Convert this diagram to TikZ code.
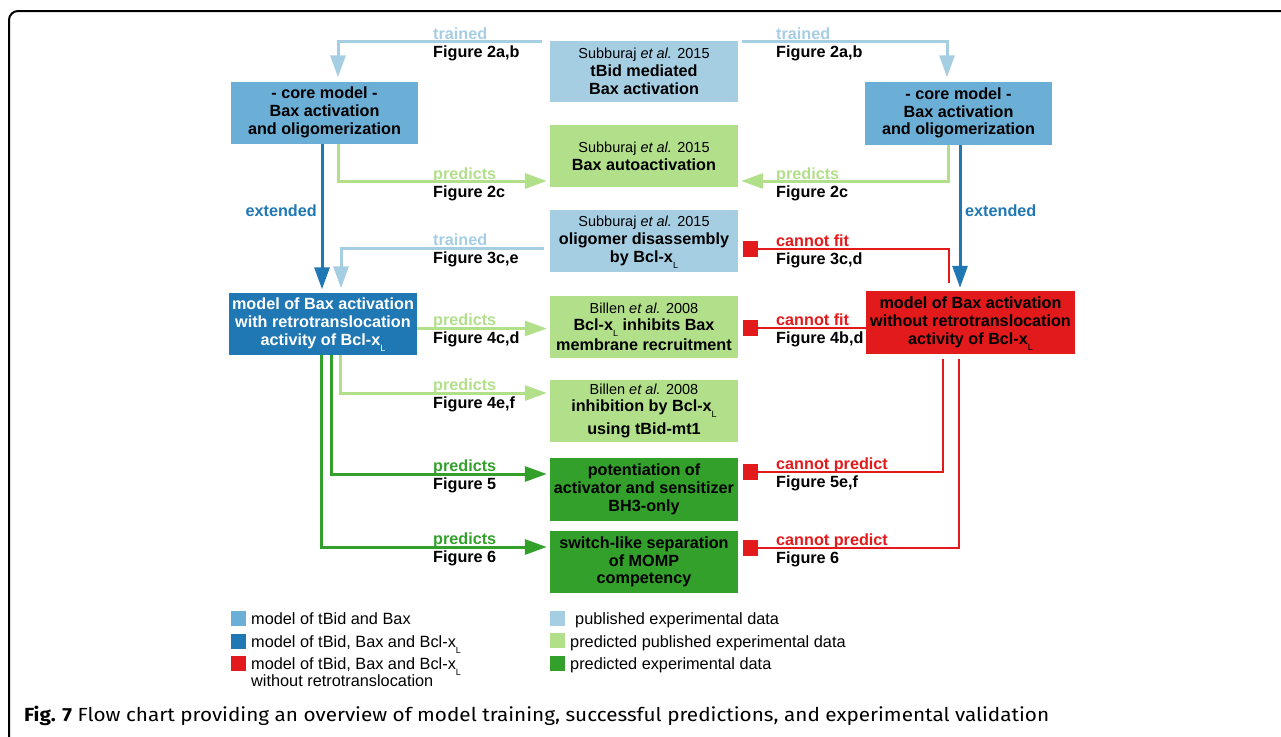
\documentclass[tikz,border=0pt]{standalone}
\usepackage{fontspec}
\setmainfont{Liberation Sans}
\newfontfamily\capfont{Fira Sans}
\usetikzlibrary{arrows.meta,calc}
\definecolor{cmodel}{HTML}{6BAED6}
\definecolor{cdata}{HTML}{A6CEE3}
\definecolor{cblue}{HTML}{1F78B4}
\definecolor{cpred}{HTML}{B2DF8A}
\definecolor{cgreen}{HTML}{33A02C}
\definecolor{cred}{HTML}{E31A1C}
\newcommand\Lsub{\smash{\raisebox{-6pt}{\fontsize{9}{9}\selectfont\mdseries L}}}
\newcommand\refl[1]{{\fontsize{14.5}{18}\selectfont\mdseries #1}}
\newsavebox\capbox
\newdimen\capw
\begin{document}
\sbox\capbox{\capfont\fontsize{19}{22}\selectfont\textbf{Fig. 7} Flow chart providing an overview of model training, successful predictions, and experimental validation}%
\global\capw=\wd\capbox
\pgfmathsetmacro\capsx{1025/\capw}%
\xdef\capsx{\capsx}%
\begin{tikzpicture}[x=1pt,y=-1pt,
  box/.style={rectangle, inner sep=0pt, align=center, text=black,
    font=\fontsize{16.2}{17.8}\selectfont\bfseries},
  lab/.style={inner sep=0pt, anchor=base west, font=\fontsize{16.2}{18}\selectfont\bfseries},
  legsq/.style={rectangle, minimum size=15pt, inner sep=0pt},
  legtx/.style={inner sep=0pt, anchor=base west, font=\fontsize{16.3}{18}\selectfont},
  ln/.style={line width=3pt},
  arr/.style={-{Triangle[length=22pt,width=15pt]}},
  trained/.style={ln, draw=cdata, arr, shorten >=4pt},
  predl/.style={ln, draw=cpred, arr, shorten >=3pt},
  predd/.style={ln, draw=cgreen, arr, shorten >=3pt},
  ext/.style={ln, draw=cblue, arr, shorten >=3pt},
  cannot/.style={line width=2.6pt, draw=cred, -{Square[length=15pt,width=16pt]}, shorten >=5pt}
]
\useasboundingbox (0,0) rectangle (1281,736);
\draw[line width=2pt, rounded corners=9pt] (9,737) -- (9,11) -- (1283,11);

% boxes
\node[box, fill=cmodel, minimum width=187pt, minimum height=62pt] (coreL) at (324.5,112.5) {- core model -\\Bax activation\\and oligomerization};
\node[box, fill=cmodel, minimum width=187pt, minimum height=63pt] (coreR) at (958.5,113) {- core model -\\Bax activation\\and oligomerization};
\node[box, fill=cdata, minimum width=188pt, minimum height=61pt] (d1) at (644,71.5) {\refl{Subburaj \textit{et al.} 2015}\\tBid mediated\\Bax activation};
\node[box, fill=cpred, minimum width=188pt, minimum height=62pt] (d2) at (644,156) {\refl{Subburaj \textit{et al.} 2015}\\Bax autoactivation};
\node[box, fill=cdata, minimum width=188pt, minimum height=62pt] (d3) at (644,241) {\refl{Subburaj \textit{et al.} 2015}\\oligomer disassembly\\by Bcl-x\Lsub};
\node[box, fill=cblue, text=white, minimum width=188pt, minimum height=62pt] (mL) at (323,323.5) {model of Bax activation\\with retrotranslocation\\activity of Bcl-x\Lsub};
\node[box, fill=cpred, minimum width=188pt, minimum height=62pt] (d4) at (644,327) {\refl{Billen \textit{et al.} 2008}\\[-1pt]Bcl-x\Lsub{} inhibits Bax\\[3pt]membrane recruitment};
\node[box, fill=cred, minimum width=209pt, minimum height=63pt] (mR) at (970.5,322.5) {model of Bax activation\\without retrotranslocation\\activity of Bcl-x\Lsub};
\node[box, fill=cpred, minimum width=188pt, minimum height=62pt] (d5) at (644,411) {\refl{Billen \textit{et al.} 2008}\\[-1pt]inhibition by Bcl-x\Lsub\\[5pt]using tBid-mt1};
\node[box, fill=cgreen, minimum width=188pt, minimum height=63pt] (d6) at (644,489.5) {potentiation of\\activator and sensitizer\\BH3-only};
\node[box, fill=cgreen, minimum width=188pt, minimum height=62pt] (d7) at (644,562) {switch-like separation\\of MOMP\\competency};

% connectors
\draw[trained] ([xshift=-8pt,yshift=-0.5pt]d1.north west) -| ([xshift=13.5pt]coreL.north);
\draw[trained] ([xshift=4pt,yshift=-0.5pt]d1.north east) -| ([xshift=-11.5pt]coreR.north);
\draw[predl] ([xshift=13.5pt]coreL.south) |- ([yshift=-25pt]d2.west);
\draw[predl] ([xshift=-10.5pt]coreR.south) |- ([yshift=-25pt]d2.east);
\draw[ext] ([xshift=-2.5pt]coreL.south) -- ([xshift=-2.5pt]coreL.south |- mL.north);
\draw[ext] ([xshift=1.5pt]coreR.south) -- ([xshift=1.5pt]coreR.south |- mR.north);
\draw[trained] ([xshift=-6pt,yshift=-7pt]d3.west) -| ([xshift=18pt]mL.north);
\draw[cannot] ([xshift=-21.5pt,yshift=8pt]mR.north) |- ([yshift=-8pt]d3.east);
\draw[predl] ([yshift=-5pt]mL.east) -- ([yshift=-5pt]mL.east -| d4.west);
\draw[cannot] ([yshift=-5.5pt]mR.west) -- ([yshift=-5.5pt]mR.west -| d4.east);
\draw[predl] ([xshift=17.5pt]mL.south) |- ([yshift=18pt]d5.west);
\draw[predd] ([xshift=8pt]mL.south) |- ([yshift=15.5pt]d6.west);
\draw[predd] ([xshift=-2pt]mL.south) |- ([yshift=15pt]d7.west);
\draw[cannot] ([xshift=-27.5pt,yshift=-5pt]mR.south) |- ([yshift=17.5pt]d6.east);
\draw[cannot] ([xshift=-11.5pt,yshift=-5pt]mR.south) |- ([yshift=14pt]d7.east);

% connector labels (left)
\node[lab, text=cdata] (l1a) at (433,39.5) {trained};
\node[lab] (l1b) at (433,57.5) {Figure 2a,b};
\node[lab, text=cpred] (l2a) at (433,179) {predicts};
\node[lab] (l2b) at (433,197) {Figure 2c};
\node[lab, text=cdata] (l3a) at (433,245.5) {trained};
\node[lab] (l3b) at (433,263.5) {Figure 3c,e};
\node[lab, text=cpred] (l4a) at (433,325.5) {predicts};
\node[lab] (l4b) at (433,343.5) {Figure 4c,d};
\node[lab, text=cpred] (l5a) at (433,390.5) {predicts};
\node[lab] (l5b) at (433,408.5) {Figure 4e,f};
\node[lab, text=cgreen] (l6a) at (433,471.5) {predicts};
\node[lab] (l6b) at (433,489.5) {Figure 5};
\node[lab, text=cgreen] (l7a) at (433,544.5) {predicts};
\node[lab] (l7b) at (433,562.5) {Figure 6};
% connector labels (right)
\node[lab, text=cdata] (r1a) at (776,39.5) {trained};
\node[lab] (r1b) at (776,57.5) {Figure 2a,b};
\node[lab, text=cpred] (r2a) at (776,179) {predicts};
\node[lab] (r2b) at (776,197) {Figure 2c};
\node[lab, text=cred] (r3a) at (776,246.5) {cannot fit};
\node[lab] (r3b) at (776,264.5) {Figure 3c,d};
\node[lab, text=cred] (r4a) at (776,325.5) {cannot fit};
\node[lab] (r4b) at (776,343.5) {Figure 4b,d};
\node[lab, text=cred] (r5a) at (776,469) {cannot predict};
\node[lab] (r5b) at (776,487) {Figure 5e,f};
\node[lab, text=cred] (r6a) at (776,545) {cannot predict};
\node[lab] (r6b) at (776,563) {Figure 6};
\node[lab, anchor=base east, text=cblue] (extL) at (317,216) {extended};
\node[lab, text=cblue] (extR) at (965,216) {extended};

% legend
\node[legsq, fill=cmodel] (lg1) at (238.5,618.5) {};
\node[legtx] (lt1) at (251,624.5) {model of tBid and Bax};
\node[legsq, fill=cblue] (lg2) at (238.5,641.5) {};
\node[legtx] (lt2) at (251,647) {model of tBid, Bax and Bcl-x\Lsub};
\node[legsq, fill=cred] (lg3) at (238.5,663.5) {};
\node[legtx] (lt3) at (251,669) {model of tBid, Bax and Bcl-x\Lsub};
\node[legtx] (lt3b) at (251,686) {without retrotranslocation};
\node[legsq, fill=cdata] (lg4) at (557.5,618.5) {};
\node[legtx] (lt4) at (575,624) {published experimental data};
\node[legsq, fill=cpred] (lg5) at (557.5,640.5) {};
\node[legtx] (lt5) at (570,647) {predicted published experimental data};
\node[legsq, fill=cgreen] (lg6) at (557.5,663.5) {};
\node[legtx] (lt6) at (570,669) {predicted experimental data};

% caption
\node[anchor=base west, inner sep=0pt] (cap) at (24,721) {\scalebox{\capsx}[1]{\usebox\capbox}};
\end{tikzpicture}
\end{document}
